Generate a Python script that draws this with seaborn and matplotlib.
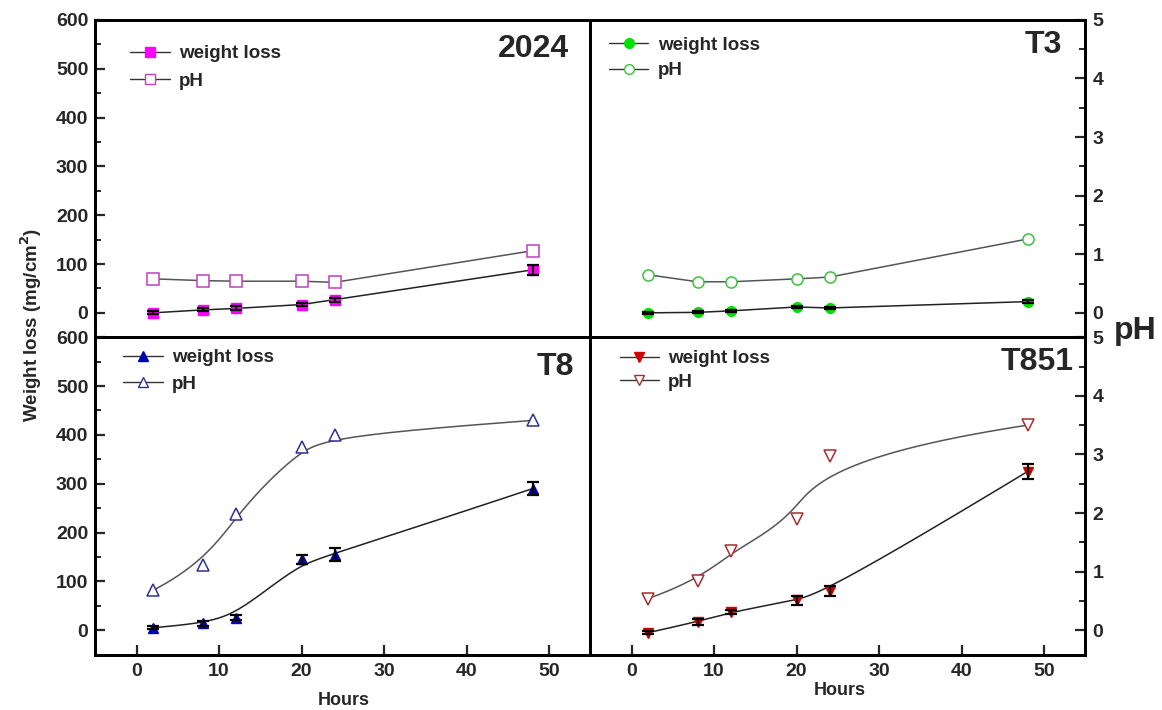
import numpy as np
import matplotlib
matplotlib.use("Agg")
import matplotlib.pyplot as plt
from matplotlib.lines import Line2D
from matplotlib.ticker import MultipleLocator
import seaborn as sns

# data
hours = [2, 8, 12, 20, 24, 48]
panels = ["2024", "T3", "T8", "T851"]

wl_2024 = [0, 6, 9, 17, 27, 88]
wl_2024_err = [3, 3, 4, 4, 4, 10]
ph_2024 = [0.58, 0.55, 0.54, 0.54, 0.52, 1.06]

wl_t3 = [0, 1, 4, 12, 10, 23]
wl_t3_err = [2, 2, 2, 2, 2, 3]
ph_t3 = [0.65, 0.53, 0.53, 0.58, 0.61, 1.26]

wl_t8 = [5, 14, 26, 145, 155, 290]
wl_t8_err = [3, 5, 5, 10, 14, 14]
ph_t8 = [0.68, 1.12, 1.98, 3.13, 3.33, 3.58]

wl_t851 = [-5, 17, 38, 61, 80, 325]
wl_t851_err = [3, 6, 4, 10, 10, 15]
ph_t851 = [0.54, 0.84, 1.36, 1.90, 2.98, 3.50]

wl_values = [wl_2024, wl_t3, wl_t8, wl_t851]
wl_errors = [wl_2024_err, wl_t3_err, wl_t8_err, wl_t851_err]
ph_values = [ph_2024, ph_t3, ph_t8, ph_t851]

# styling
wl_colors = ["#FF00FF", "#00E000", "#0000B0", "#D00000"]
ph_colors = ["#C040C0", "#40C040", "#303090", "#A03030"]
markers = ["s", "o", "^", "v"]
smooth = [False, False, True, True]
legend_anchor = [(0.071, 0.92), (0.038, 0.948), (0.057, 0.963), (0.059, 0.96)]
legend_spacing = [0.55, 0.45, 0.5, 0.35]
label_pos = [(0.956, 0.909), (0.952, 0.921), (0.968, 0.906), (0.976, 0.921)]


def bspline(x, y, n=300, k=3):
    # clamped cubic B-spline using the data points as control points
    # (the "B-Spline" connect style of the original software)
    P = np.column_stack([x, y]).astype(float)
    m = len(P)
    knots = np.concatenate([np.zeros(k), np.linspace(0, 1, m - k + 1), np.ones(k)])
    u = np.linspace(0, 1, n)
    u[-1] = 1 - 1e-9
    N = np.zeros((n, len(knots) - 1))
    for j in range(len(knots) - 1):
        N[:, j] = (knots[j] <= u) & (u < knots[j + 1])
    for d in range(1, k + 1):
        Nn = np.zeros((n, len(knots) - 1 - d))
        for j in range(len(knots) - 1 - d):
            a = knots[j + d] - knots[j]
            b = knots[j + d + 1] - knots[j + 1]
            t1 = (u - knots[j]) / a * N[:, j] if a > 0 else 0
            t2 = (knots[j + d + 1] - u) / b * N[:, j + 1] if b > 0 else 0
            Nn[:, j] = t1 + t2
        N = Nn
    C = N @ P
    return C[:, 0], C[:, 1]


sns.set_theme(style="ticks")
plt.rcParams['font.family'] = ['Liberation Sans', 'DejaVu Sans']
plt.rcParams['font.weight'] = 'bold'
plt.rcParams['axes.labelweight'] = 'bold'

fig = plt.figure(figsize=(11.62, 7.10), dpi=100)
gs = fig.add_gridspec(2, 2, left=0.082, right=0.934, top=0.972, bottom=0.078,
                      hspace=0, wspace=0)

for i, name in enumerate(panels):
    row, col = divmod(i, 2)
    ax = fig.add_subplot(gs[row, col])
    tw = ax.twinx()

    ax.set_xlim(-5, 55)
    ax.set_ylim(-50, 600)
    tw.set_ylim(-50 / 120, 5)

    # connecting lines
    if smooth[i]:
        xw, yw = bspline(hours, wl_values[i])
        xp, yp = bspline(hours, ph_values[i])
    else:
        xw, yw = np.array(hours, float), np.array(wl_values[i], float)
        xp, yp = np.array(hours, float), np.array(ph_values[i], float)
    sns.lineplot(x=xw, y=yw, ax=ax, color="#222222", lw=1.1, sort=False,
                 estimator=None, legend=False)
    sns.lineplot(x=xp, y=yp, ax=tw, color="#555555", lw=1.1, sort=False,
                 estimator=None, legend=False)

    # markers + error bars
    ax.plot(hours, wl_values[i], ls="none", marker=markers[i], ms=7,
            mfc=wl_colors[i], mec=wl_colors[i], zorder=4)
    ax.errorbar(hours, wl_values[i], yerr=wl_errors[i], fmt="none",
                ecolor="black", elinewidth=1.6, capsize=4, capthick=1.6, zorder=5)
    tw.plot(hours, ph_values[i], ls="none", marker=markers[i], ms=8,
            mfc="white", mec=ph_colors[i], mew=1.1, zorder=4)

    # ticks
    is_left = col == 0
    is_bottom = row == 1
    ax.yaxis.set_major_locator(MultipleLocator(100))
    ax.yaxis.set_minor_locator(MultipleLocator(50))
    tw.yaxis.set_major_locator(MultipleLocator(1))
    tw.yaxis.set_minor_locator(MultipleLocator(0.5))
    ax.xaxis.set_major_locator(MultipleLocator(10))
    ax.tick_params(axis="y", which="both", direction="in", left=is_left,
                   right=False, labelleft=is_left, labelsize=14, pad=5)
    ax.tick_params(axis="y", which="major", length=7, width=1.6)
    ax.tick_params(axis="y", which="minor", length=4, width=1.4)
    tw.tick_params(axis="y", which="both", direction="in", right=not is_left,
                   left=False, labelright=not is_left, labelleft=False,
                   labelsize=14, pad=5)
    tw.tick_params(axis="y", which="major", length=7, width=1.6)
    tw.tick_params(axis="y", which="minor", length=4, width=1.4)
    ax.tick_params(axis="x", which="both", direction="in", bottom=is_bottom,
                   top=False, labelbottom=is_bottom, labelsize=14, pad=6,
                   length=7, width=1.6)
    ax.set_xlabel("")
    ax.set_ylabel("")
    tw.set_ylabel("")

    for a in (ax, tw):
        for sp in a.spines.values():
            sp.set_linewidth(2)
            sp.set_color("black")

    # legend
    handles = [
        Line2D([0], [0], color="#333333", lw=1, marker=markers[i], ms=7,
               mfc=wl_colors[i], mec=wl_colors[i]),
        Line2D([0], [0], color="#333333", lw=1, marker=markers[i], ms=7,
               mfc="white", mec=ph_colors[i]),
    ]
    tw.legend(handles, ["weight loss", "pH"], loc="upper left",
              bbox_to_anchor=legend_anchor[i], frameon=False, borderaxespad=0,
              borderpad=0, handlelength=2.1, handletextpad=0.5,
              labelspacing=legend_spacing[i], prop={"size": 13.5, "weight": "bold"})

    tw.text(label_pos[i][0], label_pos[i][1], name, transform=ax.transAxes,
            ha="right", va="center", fontsize=23, fontweight="bold")

fig.text(0.027, 0.542, "Weight loss (mg/cm$^\\mathbf{2}$)", rotation=90,
         ha="center", va="center", fontsize=13.5, fontweight="bold")
fig.text(0.977, 0.534, "pH", ha="center", va="center", fontsize=23,
         fontweight="bold")
fig.text(0.296, 0.014, "Hours", ha="center", va="center", fontsize=13,
         fontweight="bold")
fig.text(0.723, 0.027, "Hours", ha="center", va="center", fontsize=13,
         fontweight="bold")

plt.savefig("out.png", dpi=100)
plt.close()
